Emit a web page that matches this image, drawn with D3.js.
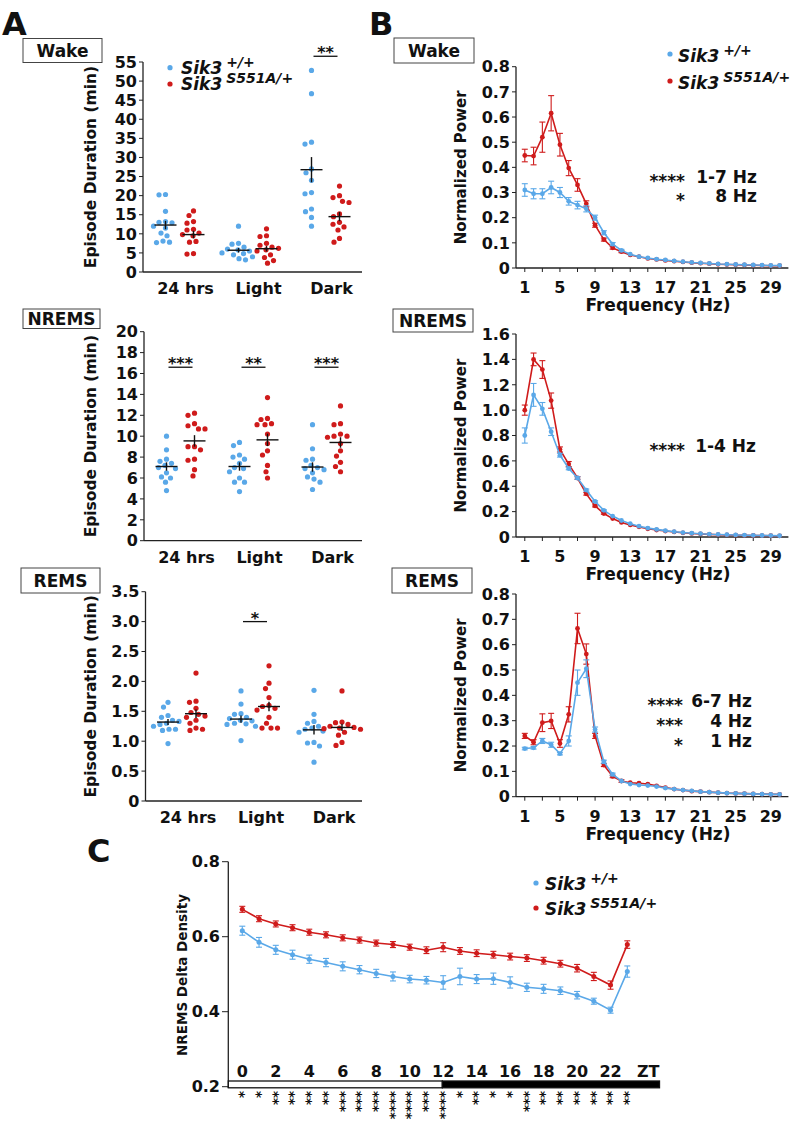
<!DOCTYPE html>
<html><head><meta charset="utf-8">
<script src="https://cdn.jsdelivr.net/npm/d3@7"></script>
<style>body{margin:0;background:#fff}svg{display:block}text{font-family:"DejaVu Sans",sans-serif;font-weight:bold;fill:#111}</style>
</head><body><svg id="c" width="793" height="1138"></svg>
<script>
const BLUE="#5aa8e8", RED="#cf1b1b";
const categories=["24 hrs","Light","Dark"];
const supers=["+/+","S551A/+"];

// ---- Panel A: episode durations (per category) ----
const wakeWT=[[20.2,20.3,15.9,13.2,13.0,12.9,12.0,11.5,10.2,9.5,7.8,7.7,8.1],[12.0,7.5,7.3,6.5,6.0,5.8,5.5,5.0,4.8,4.5,4.0,3.5,3.2],[52.8,46.7,34.0,33.5,27.0,24.0,20.8,20.5,16.5,15.8,14.3,12.0,26.0]];
const wakeMut=[[16.0,14.8,13.2,12.8,11.2,11.0,10.2,9.8,9.5,8.0,7.8,4.8,4.7],[11.3,9.5,9.3,7.5,7.0,6.5,6.2,5.8,5.5,4.5,3.8,3.0,2.3],[22.5,20.0,19.5,18.5,18.2,15.2,14.5,13.0,12.5,11.8,11.0,8.8,7.8]];
const wakeWTMean=[12.3,5.7,26.8], wakeWTSem=[1.1,0.6,3.3];
const wakeMutMean=[9.8,6.1,14.5], wakeMutSem=[1.0,0.7,1.2];
const nremWT=[[10.0,8.7,7.8,7.6,7.4,7.2,7.0,6.9,6.5,6.1,6.0,5.6,4.8],[9.4,9.1,8.2,8.0,7.8,7.4,7.0,6.9,6.6,6.0,5.6,5.6,4.7],[11.1,8.8,7.8,7.7,7.2,7.0,6.9,6.8,6.5,6.1,5.9,5.6,4.9]];
const nremMut=[[12.2,12.0,11.2,11.0,10.7,10.7,9.0,9.0,8.7,7.8,7.7,6.8,6.2],[13.7,11.7,11.6,11.2,11.1,11.1,10.2,9.3,8.6,8.2,7.2,6.6,6.0],[12.9,11.2,11.1,10.2,10.0,10.0,9.9,9.3,8.6,8.1,7.5,7.1,6.6]];
const nremWTMean=[7.1,7.1,7.05], nremWTSem=[0.4,0.4,0.45];
const nremMutMean=[9.55,9.65,9.4], nremMutSem=[0.55,0.6,0.5];
const remWT=[[1.65,1.57,1.43,1.40,1.35,1.33,1.30,1.28,1.25,1.20,1.20,1.18,0.96],[1.84,1.62,1.46,1.45,1.40,1.38,1.35,1.34,1.30,1.29,1.28,1.25,1.01],[1.85,1.45,1.33,1.30,1.25,1.22,1.20,1.17,1.15,0.98,0.97,0.92,0.65]];
const remMut=[[2.14,1.67,1.65,1.55,1.48,1.45,1.42,1.40,1.35,1.30,1.22,1.20,1.18],[2.26,1.97,1.88,1.73,1.60,1.58,1.55,1.52,1.40,1.30,1.22,1.22,1.22],[1.84,1.32,1.31,1.28,1.25,1.23,1.22,1.21,1.20,1.15,1.10,0.98,0.93]];
const remWTMean=[1.32,1.37,1.19], remWTSem=[0.05,0.06,0.08];
const remMutMean=[1.46,1.58,1.23], remMutSem=[0.07,0.08,0.06];
const wakeSig=[{cat:"Dark",level:56.5,stars:"**"}];
const nremSig=[{cat:"24 hrs",level:16.6,stars:"***"},{cat:"Light",level:16.6,stars:"**"},{cat:"Dark",level:16.6,stars:"***"}];
const remSig=[{cat:"Light",level:3.0,stars:"*"}];

// ---- Panel B: spectra ----
const freqs=[1,2,3,4,5,6,7,8,9,10,11,12,13,14,15,16,17,18,19,20,21,22,23,24,25,26,27,28,29,30];
const freqTicks=[1,5,9,13,17,21,25,29];
const wakeWTPow=[0.31,0.295,0.295,0.32,0.30,0.265,0.25,0.235,0.20,0.14,0.095,0.07,0.055,0.045,0.04,0.035,0.032,0.028,0.025,0.022,0.02,0.018,0.016,0.015,0.014,0.013,0.012,0.011,0.01,0.01];
const wakeWTErr=[0.025,0.02,0.02,0.025,0.02,0.015,0.015,0.012,0.01,0.008,0.006,0.004,0,0,0,0,0,0,0,0,0,0,0,0,0,0,0,0,0,0];
const wakeMutPow=[0.447,0.445,0.52,0.615,0.49,0.397,0.33,0.255,0.17,0.113,0.08,0.065,0.052,0.045,0.038,0.034,0.03,0.027,0.024,0.021,0.019,0.017,0.015,0.014,0.013,0.012,0.011,0.01,0.009,0.009];
const wakeMutErr=[0.025,0.035,0.06,0.07,0.045,0.03,0.025,0.012,0.008,0.006,0.005,0.004,0,0,0,0,0,0,0,0,0,0,0,0,0,0,0,0,0,0];
const nremWTPow=[0.80,1.12,1.01,0.83,0.645,0.54,0.465,0.37,0.28,0.21,0.165,0.13,0.105,0.085,0.07,0.06,0.05,0.042,0.035,0.03,0.026,0.022,0.02,0.018,0.016,0.014,0.013,0.012,0.011,0.01];
const nremWTErr=[0.06,0.09,0.05,0.03,0.015,0.01,0.01,0.008,0.006,0.005,0,0,0,0,0,0,0,0,0,0,0,0,0,0,0,0,0,0,0,0];
const nremMutPow=[1.00,1.40,1.32,1.075,0.69,0.575,0.465,0.34,0.245,0.185,0.145,0.115,0.095,0.08,0.065,0.055,0.047,0.04,0.033,0.028,0.024,0.021,0.018,0.016,0.014,0.013,0.012,0.011,0.01,0.009];
const nremMutErr=[0.04,0.05,0.07,0.06,0.02,0.02,0.01,0.01,0.008,0.006,0,0,0,0,0,0,0,0,0,0,0,0,0,0,0,0,0,0,0,0];
const remWTPow=[0.19,0.193,0.22,0.205,0.17,0.22,0.45,0.505,0.265,0.138,0.088,0.062,0.05,0.046,0.044,0.04,0.034,0.03,0.026,0.023,0.02,0.018,0.016,0.014,0.013,0.012,0.011,0.01,0.009,0.009];
const remWTErr=[0.005,0.005,0.01,0.01,0.005,0.02,0.05,0.035,0.01,0.006,0.005,0,0,0,0,0,0,0,0,0,0,0,0,0,0,0,0,0,0,0];
const remMutPow=[0.24,0.215,0.292,0.299,0.21,0.325,0.664,0.563,0.24,0.125,0.08,0.062,0.055,0.053,0.05,0.043,0.036,0.03,0.026,0.022,0.02,0.018,0.016,0.014,0.013,0.012,0.011,0.01,0.009,0.009];
const remMutErr=[0.01,0.01,0.035,0.03,0.015,0.03,0.06,0.04,0.01,0.006,0.005,0.005,0,0,0,0,0,0,0,0,0,0,0,0,0,0,0,0,0,0];
const wakeNotes=[["****","1-7 Hz"],["*","8 Hz"]];
const nremNotes=[["****","1-4 Hz"]];
const remNotes=[["****","6-7 Hz"],["***","4 Hz"],["*","1 Hz"]];

// ---- Panel C: delta density ----
const zt=[0,1,2,3,4,5,6,7,8,9,10,11,12,13,14,15,16,17,18,19,20,21,22,23];
const ztTicks=[0,2,4,6,8,10,12,14,16,18,20,22];
const deltaMut=[0.673,0.648,0.634,0.624,0.612,0.605,0.597,0.591,0.583,0.579,0.572,0.564,0.572,0.562,0.556,0.552,0.547,0.543,0.536,0.528,0.516,0.494,0.471,0.579];
const deltaMutErr=[0.008,0.008,0.008,0.008,0.008,0.008,0.008,0.008,0.008,0.008,0.008,0.009,0.012,0.009,0.009,0.009,0.009,0.009,0.009,0.009,0.01,0.011,0.011,0.01];
const deltaWT=[0.616,0.585,0.565,0.552,0.540,0.531,0.521,0.512,0.502,0.494,0.487,0.484,0.478,0.494,0.487,0.488,0.478,0.465,0.461,0.456,0.444,0.428,0.404,0.507];
const deltaWTErr=[0.012,0.013,0.012,0.012,0.011,0.011,0.012,0.011,0.011,0.012,0.01,0.01,0.018,0.022,0.012,0.015,0.015,0.011,0.012,0.01,0.01,0.008,0.008,0.015];
const ztStars=[1,1,2,2,2,2,3,3,3,4,4,3,4,1,2,1,1,3,2,2,2,2,2,2];
const deltaTicks=[0.2,0.4,0.6,0.8];

const svg=d3.select("#c");

function txt(g,x,y,s,size,anchor){return g.append("text").attr("x",x).attr("y",y).attr("font-size",size).attr("text-anchor",anchor||"start").text(s);}
function boxLabel(x,y,w,h,s){
  svg.append("rect").attr("x",x).attr("y",y).attr("width",w).attr("height",h).attr("fill","#fff").attr("stroke","#444").attr("stroke-width",1);
  txt(svg,x+w/2,y+h/2,s,17,"middle").attr("dy","0.36em");
}
function legend(x,y1,y2,gap,sup,size,supSize){
  const t=svg.append("text").attr("font-size",size).attr("font-style","italic");
  [[y1,BLUE,supers[0]],[y2,RED,supers[1]]].forEach(([y,c,s])=>{
    svg.append("circle").attr("cx",x).attr("cy",y).attr("r",2.6).attr("fill",c);
    t.append("tspan").attr("x",x+gap).attr("y",y+sup).text("Sik3");
    t.append("tspan").attr("dx",4).attr("dy",-7).attr("font-size",supSize).text(s);
  });
}
function swarm(vals,y,cx,r){
  const placed=[],out=[];
  const order=vals.map((v,i)=>i).sort((a,b)=>vals[b]-vals[a]);
  for(const i of order){
    const py=y(vals[i]);let k=0,dx=0;
    while(true){
      const c=(k%2===0?1:-1)*Math.ceil(k/2)*0.5;
      if(placed.every(p=>(p.x-c)**2+(p.y-py)**2>=(2*r+1.2)**2)){dx=c;break;}
      k++;
    }
    placed.push({x:dx,y:py});out[i]={x:cx+dx,y:py};
  }
  return out;
}
function scatterPanel(o){
  const g=svg.append("g");
  const y=d3.scaleLinear().domain([0,o.max]).range([o.yZero,o.yTop]);
  const x=d3.scaleBand().domain(categories).range([o.x0,o.x0+219]);
  const sx=d3.scaleBand().domain(["wt","mut"]).range([-28,28]);
  g.append("line").attr("x1",o.x0).attr("x2",o.x0).attr("y1",o.yTop).attr("y2",o.yZero).attr("stroke","#222").attr("stroke-width",1.3);
  g.append("line").attr("x1",o.x0).attr("x2",362).attr("y1",o.yZero).attr("y2",o.yZero).attr("stroke","#222").attr("stroke-width",1.3);
  d3.range(0,o.max+o.step/2,o.step).forEach(v=>{
    g.append("line").attr("x1",o.x0-4).attr("x2",o.x0).attr("y1",y(v)).attr("y2",y(v)).attr("stroke","#222");
    txt(g,o.x0-6,y(v),o.fmt(v),16,"end").attr("dy","0.36em");
  });
  categories.forEach(c=>txt(g,x(c)+x.bandwidth()/2+6,o.yZero+22,c,16,"middle"));
  g.append("text").attr("transform",`translate(96,${(o.yTop+o.yZero)/2}) rotate(-90)`).attr("text-anchor","middle").attr("font-size",15.5).text("Episode Duration (min)");
  const groups=[["wt",o.wt,o.wtMean,o.wtSem,BLUE],["mut",o.mut,o.mutMean,o.mutSem,RED]];
  categories.forEach((c,ci)=>{
    groups.forEach(([k,vals,mean,sem,col])=>{
      const cx=x(c)+x.bandwidth()/2+sx(k)+sx.bandwidth()/2;
      swarm(vals[ci],y,cx,2.6).forEach(p=>g.append("circle").attr("cx",p.x).attr("cy",p.y).attr("r",2.6).attr("fill",col));
      g.append("line").attr("x1",cx-11).attr("x2",cx+11).attr("y1",y(mean[ci])).attr("y2",y(mean[ci])).attr("stroke","#111").attr("stroke-width",1.4);
      g.append("line").attr("x1",cx).attr("x2",cx).attr("y1",y(mean[ci]-sem[ci])).attr("y2",y(mean[ci]+sem[ci])).attr("stroke","#111").attr("stroke-width",1.4);
    });
  });
  o.sig.forEach(s=>{
    const cx=x(s.cat)+x.bandwidth()/2;
    g.append("line").attr("x1",cx-12).attr("x2",cx+12).attr("y1",y(s.level)).attr("y2",y(s.level)).attr("stroke","#111").attr("stroke-width",1.3);
    txt(g,cx,y(s.level)+2,s.stars,16,"middle");
  });
}
function spectrumPanel(o){
  const g=svg.append("g");
  const x=d3.scaleLinear().domain([0,31]).range([516,788.4]);
  const y=d3.scaleLinear().domain([0,o.max]).range([o.yZero,o.yTop]);
  g.append("line").attr("x1",516).attr("x2",516).attr("y1",o.yTop).attr("y2",o.yZero).attr("stroke","#222").attr("stroke-width",1.3);
  g.append("line").attr("x1",516).attr("x2",788.4).attr("y1",o.yZero).attr("y2",o.yZero).attr("stroke","#222").attr("stroke-width",1.3);
  d3.range(0,o.max+o.step/2,o.step).forEach(v=>{
    g.append("line").attr("x1",512).attr("x2",516).attr("y1",y(v)).attr("y2",y(v)).attr("stroke","#222");
    txt(g,510,y(v),v===0?"0":d3.format(".1f")(v),16,"end").attr("dy","0.36em");
  });
  freqs.filter(f=>f%2===1).forEach(f=>g.append("line").attr("x1",x(f)).attr("x2",x(f)).attr("y1",o.yZero).attr("y2",o.yZero+4).attr("stroke","#222"));
  freqTicks.forEach(f=>txt(g,x(f),o.yZero+25,String(f),16,"middle"));
  txt(g,658,o.yZero+43,"Frequency (Hz)",17,"middle");
  g.append("text").attr("transform",`translate(466,${(o.yTop+o.yZero)/2}) rotate(-90)`).attr("text-anchor","middle").attr("font-size",15).text("Normalized Power");
  [[o.mut,o.mutErr,RED],[o.wt,o.wtErr,BLUE]].forEach(([vals,err,col])=>{
    const line=d3.line().x((d,i)=>x(freqs[i])).y(d=>y(d));
    g.append("path").attr("d",line(vals)).attr("fill","none").attr("stroke",col).attr("stroke-width",1.6);
    vals.forEach((v,i)=>{
      if(err[i]>0.003){
        const xx=x(freqs[i]);
        g.append("line").attr("x1",xx).attr("x2",xx).attr("y1",y(v-err[i])).attr("y2",y(v+err[i])).attr("stroke",col).attr("stroke-width",1.1);
        [v-err[i],v+err[i]].forEach(e=>g.append("line").attr("x1",xx-3).attr("x2",xx+3).attr("y1",y(e)).attr("y2",y(e)).attr("stroke",col).attr("stroke-width",1.1));
      }
      g.append("circle").attr("cx",x(freqs[i])).attr("cy",y(v)).attr("r",2.4).attr("fill",col);
    });
  });
  o.notes.forEach((n,i)=>{
    txt(g,o.starX,o.noteY+i*o.noteGap+4,n[0],17,"end");
    txt(g,o.hzX,o.noteY+i*o.noteGap,n[1],17,"end");
  });
}

// Panel letters
txt(svg,2,35,"A",32).attr("font-weight","normal");
txt(svg,369,35,"B",32).attr("font-weight","normal");
txt(svg,87,862,"C",32).attr("font-weight","normal");

boxLabel(23,38.5,79,24,"Wake");
boxLabel(23,309,77,19.5,"NREMS");
boxLabel(21,568,79,25,"REMS");
boxLabel(394,38,80,25,"Wake");
boxLabel(393,309,80,23,"NREMS");
boxLabel(392,568,80,25,"REMS");

scatterPanel({x0:143,yTop:62,yZero:272,max:55,step:5,fmt:d3.format("d"),wt:wakeWT,mut:wakeMut,wtMean:wakeWTMean,wtSem:wakeWTSem,mutMean:wakeMutMean,mutSem:wakeMutSem,sig:wakeSig});
scatterPanel({x0:144,yTop:331.7,yZero:540.7,max:20,step:2,fmt:d3.format("d"),wt:nremWT,mut:nremMut,wtMean:nremWTMean,wtSem:nremWTSem,mutMean:nremMutMean,mutSem:nremMutSem,sig:nremSig});
scatterPanel({x0:145.5,yTop:591.7,yZero:801,max:3.5,step:0.5,fmt:v=>v===0?"0":d3.format(".1f")(v),wt:remWT,mut:remMut,wtMean:remWTMean,wtSem:remWTSem,mutMean:remMutMean,mutSem:remMutSem,sig:remSig});
legend(170,67.7,84,11,6,17,14);

spectrumPanel({yTop:66.7,yZero:268,max:0.8,step:0.1,wt:wakeWTPow,wtErr:wakeWTErr,mut:wakeMutPow,mutErr:wakeMutErr,notes:wakeNotes,starX:685,hzX:757,noteY:183,noteGap:19});
spectrumPanel({yTop:334,yZero:537,max:1.6,step:0.2,wt:nremWTPow,wtErr:nremWTErr,mut:nremMutPow,mutErr:nremMutErr,notes:nremNotes,starX:685,hzX:756,noteY:452,noteGap:19});
spectrumPanel({yTop:594,yZero:796.7,max:0.8,step:0.1,wt:remWTPow,wtErr:remWTErr,mut:remMutPow,mutErr:remMutErr,notes:remNotes,starX:683,hzX:752,noteY:707,noteGap:20});
legend(670,54,81,8,8,17,14);

// Panel C
(function(){
  const g=svg.append("g");
  const AX=228.3, END=659.5;
  const x=d3.scaleLinear().domain([0,23]).range([242.3,627.3]);
  const y=d3.scaleLinear().domain([0.2,0.8]).range([1086.7,861.7]);
  g.append("line").attr("x1",AX).attr("x2",AX).attr("y1",861.7).attr("y2",1088).attr("stroke","#222").attr("stroke-width",1.3);
  deltaTicks.forEach(v=>{
    g.append("line").attr("x1",222).attr("x2",AX).attr("y1",y(v)).attr("y2",y(v)).attr("stroke","#222");
    txt(g,220,y(v),d3.format(".1f")(v),16,"end").attr("dy","0.36em");
  });
  g.append("rect").attr("x",AX).attr("y",1081).attr("width",x(11.95)-AX).attr("height",6.8).attr("fill","#fff").attr("stroke","#111").attr("stroke-width",1.3);
  g.append("rect").attr("x",x(11.95)).attr("y",1081).attr("width",END-x(11.95)).attr("height",6.8).attr("fill","#000").attr("stroke","#111").attr("stroke-width",1.3);
  ztTicks.forEach(t=>txt(g,x(t),1077,String(t),16,"middle"));
  txt(g,x(24.25),1077,"ZT",16,"middle");
  g.append("text").attr("transform",`translate(187,975) rotate(-90)`).attr("text-anchor","middle").attr("font-size",13.5).text("NREMS Delta Density");
  [[deltaWT,deltaWTErr,BLUE],[deltaMut,deltaMutErr,RED]].forEach(([vals,err,col])=>{
    g.append("path").attr("d",d3.line().x((d,i)=>x(zt[i])).y(d=>y(d))(vals)).attr("fill","none").attr("stroke",col).attr("stroke-width",1.6);
    vals.forEach((v,i)=>{
      const xx=x(zt[i]);
      g.append("line").attr("x1",xx).attr("x2",xx).attr("y1",y(v-err[i])).attr("y2",y(v+err[i])).attr("stroke",col).attr("stroke-width",1.1);
      [v-err[i],v+err[i]].forEach(e=>g.append("line").attr("x1",xx-3).attr("x2",xx+3).attr("y1",y(e)).attr("y2",y(e)).attr("stroke",col).attr("stroke-width",1.1));
      g.append("circle").attr("cx",xx).attr("cy",y(v)).attr("r",2.5).attr("fill",col);
    });
  });
  ztStars.forEach((n,i)=>{
    g.append("text").attr("font-size",13.5)
      .attr("transform",`translate(${x(zt[i])-7.2},1091) rotate(90)`)
      .text("*".repeat(n));
  });
})();
legend(536,883,908,9,7,17,14);
</script></body></html>
